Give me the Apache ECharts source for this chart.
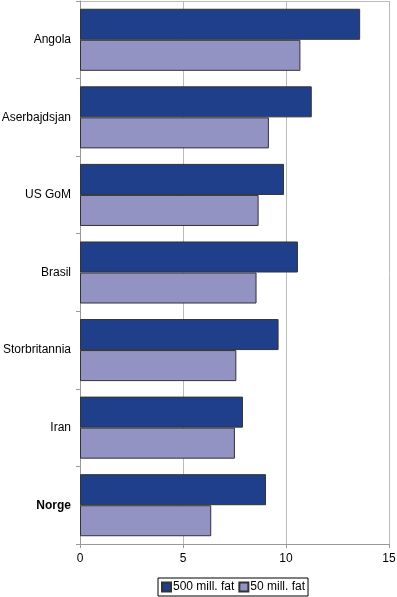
<!DOCTYPE html>
<html>
<head>
<meta charset="utf-8">
<script src="https://cdn.jsdelivr.net/npm/echarts@6/dist/echarts.min.js"></script>
<style>
  html, body { margin: 0; padding: 0; background: #fff; }
  #chart { width: 397px; height: 597px; }
</style>
</head>
<body>
<div id="chart"></div>
<script>
// data
const countries = ['Angola', 'Aserbajdsjan', 'US GoM', 'Brasil', 'Storbritannia', 'Iran', 'Norge'];
const fat500 = [13.6, 11.25, 9.9, 10.58, 9.64, 7.91, 9.03];
const fat50 = [10.7, 9.17, 8.67, 8.57, 7.59, 7.52, 6.37];
const seriesNames = ['500 mill. fat', '50 mill. fat'];

const myChart = echarts.init(document.getElementById('chart'), null, { renderer: 'canvas' });

const font = 'Liberation Sans, Arial, sans-serif';

let option = {
  animation: false,
  textStyle: { fontFamily: font },
  grid: { left: 80, right: 8, top: 1, bottom: 53, containLabel: false, outerBoundsMode: 'none' },
  legend: {
    bottom: 1,
    left: 158,
    itemWidth: 9,
    itemHeight: 9,
    itemGap: 4,
    icon: 'rect',
    borderColor: '#000',
    borderWidth: 1,
    padding: [3, 3, 3, 3],
    textStyle: { fontSize: 12, color: '#000', fontFamily: font, padding: [0, 0, 0, -3] },
    data: seriesNames
  },
  xAxis: {
    type: 'value',
    min: 0,
    max: 15,
    interval: 5,
    axisLine: { show: true, lineStyle: { color: '#999', width: 1 } },
    axisTick: { show: true, length: 4, lineStyle: { color: '#999' } },
    axisLabel: { color: '#000', fontSize: 12, margin: 9, fontFamily: font },
    splitLine: { show: true, lineStyle: { color: '#bbb', width: 1 } }
  },
  yAxis: {
    type: 'category',
    data: countries,
    inverse: true,
    axisLine: { show: true, lineStyle: { color: '#999', width: 1 } },
    axisTick: { show: true, length: 4, lineStyle: { color: '#999' } },
    axisLabel: {
      color: '#000',
      fontSize: 12,
      margin: 9,
      fontFamily: font,
      formatter: function (v) {
        return v === 'Norge' ? '{b|' + v + '}' : v;
      },
      rich: { b: { fontWeight: 'bold', fontSize: 12, color: '#000', fontFamily: font } }
    },
    splitLine: { show: false }
  },
  series: [
    {
      name: seriesNames[0],
      type: 'bar',
      data: fat500,
      barCategoryGap: '20%',
      barGap: '0%',
      itemStyle: { color: '#203f8b', borderColor: '#333', borderWidth: 1 }
    },
    {
      name: seriesNames[1],
      type: 'bar',
      data: fat50,
      barCategoryGap: '20%',
      barGap: '0%',
      itemStyle: { color: '#9292c3', borderColor: '#333', borderWidth: 1 }
    }
  ],
  graphic: [
    // top border of plot area
    { type: 'line', shape: { x1: 80, y1: 1.5, x2: 389, y2: 1.5 }, style: { stroke: '#bbb', lineWidth: 1 } }
  ]
};

option && myChart.setOption(option);
</script>
</body>
</html>
